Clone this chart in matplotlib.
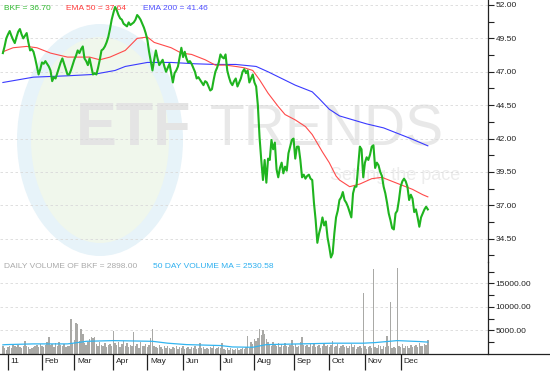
import numpy as np
import pandas as pd
import matplotlib
matplotlib.use("Agg")
import matplotlib.pyplot as plt
from matplotlib.patches import Ellipse
from matplotlib.lines import Line2D
from matplotlib.ticker import FixedLocator, FormatStrFormatter

plt.rcParams['font.family'] = ['Liberation Sans', 'DejaVu Sans']

# ---------------- data ----------------
holidays = ['2011-01-17', '2011-02-21', '2011-04-22', '2011-05-30',
            '2011-07-04', '2011-09-05', '2011-11-24']
dates = pd.bdate_range('2010-12-29', '2011-12-23')
dates = dates[~dates.isin(pd.to_datetime(holidays))]

bkf_close = [
    48.4, 48.9, 49.5, 49.8, 50.05, 49.7, 49.4, 49.15, 49.6, 50.0,
    50.2, 49.8, 49.5, 49.7, 49.9, 49.2, 48.6, 48.7, 48.5, 48.0,
    47.4, 46.8, 47.2, 47.7, 47.6, 47.8, 47.6, 47.4, 47.1, 46.3,
    46.6, 46.5, 46.9, 47.3, 47.7, 48.0, 47.6, 47.2, 46.8, 46.8,
    47.1, 47.5, 47.9, 48.2, 48.6, 48.4, 48.7, 48.9, 48.0, 47.8,
    47.5, 48.0, 47.4, 46.8, 46.9, 46.8, 47.3, 47.9, 48.6, 48.7,
    48.9, 49.2, 49.6, 50.2, 50.9, 51.4, 51.85, 51.6, 51.25, 51.0,
    50.9, 50.6, 50.5, 50.4, 50.7, 50.5, 50.6, 50.7, 50.9, 51.25,
    51.1, 50.9, 50.6, 50.3, 49.9, 49.4, 48.5, 47.8, 47.1, 47.9,
    48.6, 48.0, 47.5, 47.7, 47.9, 47.4, 47.0, 47.3, 47.6, 46.9,
    46.2, 46.9, 47.1, 47.4, 48.1, 48.8, 48.1, 48.5, 48.0, 47.7,
    47.8, 47.6, 47.3, 47.0, 46.5, 46.6, 46.4, 46.2, 46.0, 46.3,
    46.2, 45.9, 45.6, 45.7, 46.4, 47.0, 47.3, 47.7, 48.3, 48.1,
    48.0, 48.3, 47.1, 46.6, 46.2, 46.0, 46.3, 46.5, 45.9, 46.2,
    46.5, 47.0, 47.2, 46.9, 47.1, 46.2, 46.5, 46.8, 46.2, 45.9,
    44.5, 42.1, 40.4, 38.9, 40.4, 38.7, 40.5, 40.4, 41.9, 41.2,
    41.7, 39.7, 39.1, 39.8, 40.2, 39.4, 39.9, 39.6, 40.9, 41.4,
    41.9, 42.0, 40.5, 41.4, 41.4, 40.4, 39.1, 39.3, 39.0, 39.2,
    39.3, 39.0, 38.9, 37.2, 35.9, 34.2, 34.9, 35.4, 36.1, 35.5,
    35.8, 34.6, 33.9, 33.1, 33.4, 34.9, 36.1, 36.6, 37.4, 37.6,
    38.0, 37.4, 37.2, 36.9, 36.5, 36.1, 37.9, 38.4, 38.4, 39.9,
    41.4, 41.2, 39.1, 40.2, 40.6, 40.4, 40.8, 41.4, 41.5, 39.8,
    40.2, 40.0, 39.5, 39.2, 38.4, 37.9, 37.2, 36.4, 35.9, 35.3,
    35.2, 36.4, 36.6, 37.4, 38.4, 38.8, 39.0, 38.8, 38.4, 37.4,
    37.8, 37.5, 36.5, 36.7, 36.1, 35.4, 36.1, 36.4, 36.7, 36.9, 36.7,
]

ema50_day = [0, 6, 14, 20, 28, 38, 51, 57, 63, 72, 79, 85, 89, 99, 105, 111,
             119, 125, 131, 137, 142, 147, 151, 156, 162, 166, 172, 178, 182,
             188, 192, 196, 198, 204, 210, 217, 223, 229, 235, 241, 247, 250]
ema50_val = [48.5, 48.8, 48.9, 48.8, 48.4, 48.1, 48.1, 47.9, 48.1, 48.6, 49.5,
             49.6, 49.2, 48.8, 48.4, 48.3, 47.9, 47.5, 47.5, 47.4, 47.3, 47.1,
             46.4, 45.4, 44.4, 43.8, 43.4, 42.9, 42.3, 41.0, 40.2, 39.2, 38.9,
             38.4, 38.6, 39.0, 39.1, 38.8, 38.5, 38.2, 37.8, 37.64]

ema200_day = [0, 18, 38, 53, 66, 72, 85, 99, 113, 125, 137, 149, 156, 164,
              172, 182, 186, 192, 198, 206, 214, 224, 232, 240, 250]
ema200_val = [46.2, 46.6, 46.7, 46.8, 47.1, 47.4, 47.7, 47.7, 47.6, 47.55,
              47.55, 47.4, 47.0, 46.5, 46.0, 45.5, 45.0, 44.2, 43.7, 43.4,
              43.1, 42.8, 42.4, 42.0, 41.46]

volume = [
    1600, 1200, 900, 1500, 1800, 1300, 2100, 1700, 1400, 1900,
    1500, 1200, 1800, 2700, 1600, 1400, 1100, 1300, 1500, 1700,
    1900, 1500, 2200, 1800, 1400, 2000, 2600, 3700, 1900, 2100,
    1500, 2300, 1700, 2500, 1900, 1600, 2200, 1400, 1700, 1800,
    7500, 2400, 3000, 6600, 6400, 2800, 5350, 4300, 2400, 1900,
    2600, 3100, 3600, 3500, 3700, 2200, 1800, 2500, 2000, 1600,
    2400, 1500, 2000, 2200, 1700, 4850, 2300, 1900, 2600, 1400,
    2200, 2800, 1800, 2400, 1500, 2000, 1700, 4650, 1600, 2100,
    1300, 2500, 1800, 1600, 2200, 1400, 2000, 3500, 5350, 1800,
    1500, 1200, 1900, 1400, 1100, 1600, 1300, 1800, 1200, 1000,
    1500, 1300, 1700, 1100, 1400, 1200, 1600, 1000, 1300, 1500,
    1100, 1400, 1200, 1700, 1000, 1300, 2300, 1200, 1500, 1100,
    1300, 1000, 1400, 1200, 1600, 1100, 1300, 1500, 1200, 2400,
    1000, 800, 1200, 900, 1300, 1100, 800, 1000, 1200, 900,
    1100, 1300, 1000, 1400, 3800, 1200, 2500, 2200, 3100, 2800,
    3300, 5350, 4000, 5200, 4300, 3200, 2500, 2200, 1800, 2600,
    2000, 1700, 2300, 1500, 2100, 1800, 2400, 1600, 1400, 2000,
    3000, 1800, 2200, 1500, 1700, 2500, 3700, 2000, 1600, 1900,
    1400, 2100, 1700, 2300, 1500, 1800, 2000, 1300, 1700, 2200,
    1600, 1900, 1400, 2000, 2700, 1500, 1800, 2100, 1300, 1700,
    2000, 1500, 1800, 1200, 1600, 2200, 1400, 1900, 1100, 1500,
    1700, 1300, 13000, 1600, 1100, 1400, 1800, 1200, 18000, 1500,
    1300, 2000, 1600, 1100, 1700, 1400, 3750, 1600, 11000, 1300,
    1500, 1200, 18300, 1800, 1400, 2100, 1300, 1700, 1600, 1200,
    1900, 1400, 1700, 2000, 1500, 2300, 1800, 1600, 2100, 2000, 2898,
]

vma_day = [0, 2, 18, 38, 44, 49, 65, 88, 97, 108, 128, 135, 147, 155, 175,
           194, 212, 219, 232, 245, 250]
vma_val = [1950, 2000, 2150, 2150, 2430, 2700, 2850, 2700, 2300, 2000, 1800,
           1500, 1430, 2000, 2150, 2300, 2300, 2430, 2850, 2650, 2530]

month_labels = ['11', 'Feb', 'Mar', 'Apr', 'May', 'Jun', 'Jul', 'Aug', 'Sep',
                'Oct', 'Nov', 'Dec']

# ---------------- figure ----------------
W, H = 550, 372
fig = plt.figure(figsize=(W / 100, H / 100), dpi=100)

def fx(px):
    return px / W

def fy(py):
    return 1 - py / H

# background watermark
bg = fig.add_axes([0, 0, 1, 1], zorder=0)
bg.set_xlim(0, W)
bg.set_ylim(H, 0)
bg.axis('off')
bg.add_patch(Ellipse((100, 140), 166, 232, facecolor='#e7f3f9', edgecolor='none'))
bg.add_patch(Ellipse((100, 140), 138, 206, facecolor='#f0f7ec', edgecolor='none'))
bg.text(76, 145, 'ETF', fontsize=44, fontweight='bold', color='#e4e4e4',
        ha='left', va='baseline')
bg.text(210, 145, 'TRENDS', fontsize=41, color='#e8e8e8', ha='left', va='baseline')
bg.text(330, 180, 'Setting the pace', fontsize=13, color='#ececec',
        ha='left', va='baseline')

x = np.arange(len(bkf_close))

# price panel
ax = fig.add_axes([0, fy(262), fx(488), fy(0) - fy(262)], zorder=2)
ax.patch.set_alpha(0)
ax.plot(ema200_day, ema200_val, color='#3a3aff', lw=0.8, zorder=3)
ax.plot(ema50_day, ema50_val, color='#ff4a4a', lw=0.8, zorder=4)
ax.plot(x, bkf_close, color='#1fb41f', lw=1.5, zorder=5)
ax.set_xlim(-1.7, 285.4)
ax.set_ylim(32.763, 52.374)
ax.yaxis.tick_right()
ax.yaxis.set_major_locator(FixedLocator([34.5, 37.0, 39.5, 42.0, 44.5, 47.0, 49.5, 52.0]))
ax.yaxis.set_minor_locator(FixedLocator([33.25, 35.75, 38.25, 40.75, 43.25, 45.75, 48.25, 50.75]))
ax.yaxis.set_major_formatter(FormatStrFormatter('%.2f'))
ax.tick_params(axis='y', which='major', length=4, width=0.8, labelsize=6, pad=1.5,
               colors='#222222')
ax.tick_params(axis='y', which='minor', length=4, width=0.8, colors='#222222')
ax.set_xticks([])
for s in ['left', 'top', 'bottom']:
    ax.spines[s].set_visible(False)
ax.spines['right'].set_color('#222222')
ax.spines['right'].set_linewidth(0.9)
ax.grid(axis='y', which='major', linestyle=(0, (3, 3)), color='#d9d9d9', lw=0.6)
ax.set_axisbelow(True)

# volume panel
av = fig.add_axes([0, fy(354), fx(488), fy(262) - fy(354)], zorder=2)
av.patch.set_alpha(0)
av.bar(x, volume, width=0.85, color='#a9a9a6', edgecolor='none', zorder=3)
av.plot(vma_day, vma_val, color='#33b5f0', lw=0.9, zorder=4)
av.set_xlim(-1.7, 285.4)
av.set_ylim(0, 19574)
av.yaxis.tick_right()
av.yaxis.set_major_locator(FixedLocator([5000, 10000, 15000]))
av.yaxis.set_minor_locator(FixedLocator([2500, 7500, 12500, 17500]))
av.yaxis.set_major_formatter(FormatStrFormatter('%.2f'))
av.tick_params(axis='y', which='major', length=4, width=0.8, labelsize=6, pad=1.5,
               colors='#222222')
av.tick_params(axis='y', which='minor', length=4, width=0.8, colors='#222222')
for s in ['left', 'top', 'bottom']:
    av.spines[s].set_visible(False)
av.spines['right'].set_color('#222222')
av.spines['right'].set_linewidth(0.9)
av.grid(axis='y', which='major', linestyle=(0, (3, 3)), color='#d9d9d9', lw=0.6)
av.set_axisbelow(True)

# month ticks
month_start = [i for i in range(1, len(dates)) if dates[i].month != dates[i - 1].month]
av.set_xticks(month_start)
av.set_xticklabels([])
av.tick_params(axis='x', length=11.5, width=0.9, color='#222222', direction='out')
for pos, lab in zip(month_start, month_labels):
    av.text(pos + 1.6, -0.085, lab, transform=av.get_xaxis_transform(),
            fontsize=6, ha='left', va='center', color='#222222')

# bottom line across full width
fig.add_artist(Line2D([0, 1], [fy(354), fy(354)], color='#222222', lw=0.9,
                      transform=fig.transFigure, zorder=5))

# legends
fig.text(fx(4), fy(9), 'BKF = 36.70', fontsize=6, color='#2db82d', va='center')
fig.text(fx(66), fy(9), 'EMA 50 = 37.64', fontsize=6, color='#ff3c3c', va='center')
fig.text(fx(143), fy(9), 'EMA 200 = 41.46', fontsize=6, color='#5050ff', va='center')
fig.text(fx(4), fy(266), 'DAILY VOLUME OF BKF = 2898.00', fontsize=6,
         color='#aaaaaa', va='center')
fig.text(fx(153), fy(266), '50 DAY VOLUME MA = 2530.58', fontsize=6,
         color='#2eb0f0', va='center')

fig.savefig('out.png', dpi=100, facecolor='white')
